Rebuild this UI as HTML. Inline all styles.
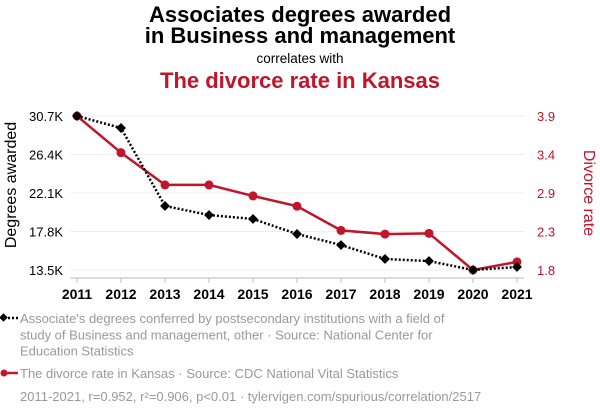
<!DOCTYPE html>
<html><head><meta charset="utf-8"><style>
body{margin:0;background:#fff;font-family:"Liberation Sans",sans-serif;}
svg{display:block}
</style></head><body>
<svg id="c" width="600" height="414">
<text x="300" y="22" text-anchor="middle" font-size="22" font-weight="bold" fill="#000">Associates degrees awarded</text>
<text x="300" y="43" text-anchor="middle" font-size="22" font-weight="bold" fill="#000">in Business and management</text>
<text x="300" y="63" text-anchor="middle" font-size="13.5" fill="#000">correlates with</text>
<text x="300" y="88" text-anchor="middle" font-size="22" font-weight="bold" fill="#c0152a">The divorce rate in Kansas</text>
<text transform="translate(16,185) rotate(-90)" text-anchor="middle" font-size="16" fill="#000">Degrees awarded</text>
<text transform="translate(584,193) rotate(90)" text-anchor="middle" font-size="16" fill="#c0152a">Divorce rate</text>
<g id="g"></g>
<g id="legend" font-size="13" fill="#999">
<line x1="4" y1="318" x2="18" y2="318" stroke="#000" stroke-width="2.5" stroke-dasharray="2,2"/>
<rect x="0.5" y="314.5" width="6" height="6" transform="rotate(45 3.5 317.5)" fill="#000"/>
<text x="20" y="323"><tspan x="20">Associate's degrees conferred by postsecondary institutions with a field of</tspan><tspan x="20" dy="16.3">study of Business and management, other · Source: National Center for</tspan><tspan x="20" dy="16.3">Education Statistics</tspan></text>
<line x1="4" y1="373" x2="18" y2="373" stroke="#c0152a" stroke-width="2.5"/>
<circle cx="4" cy="373" r="3.5" fill="#c0152a"/>
<text x="20" y="378">The divorce rate in Kansas · Source: CDC National Vital Statistics</text>
<text x="20" y="401">2011-2021, r=0.952, r²=0.906, p&lt;0.01 · tylervigen.com/spurious/correlation/2517</text>
</g>
</svg>
<script>
const years=[2011,2012,2013,2014,2015,2016,2017,2018,2019,2020,2021];
const degrees=[30.7,29.36,20.65,19.64,19.2,17.52,16.29,14.73,14.5,13.5,13.84];
const divorce=[3.9,3.4,2.96,2.96,2.81,2.67,2.34,2.29,2.30,1.8,1.91];
const leftTicks=["30.7K","26.4K","22.1K","17.8K","13.5K"];
const rightTicks=["3.9","3.4","2.9","2.3","1.8"];
const NS="http://www.w3.org/2000/svg";
const g=document.getElementById('g');
const x=i=>77+(517-77)*(years[i]-2011)/(2021-2011);
const yL=v=>270-(v-13.5)/(30.7-13.5)*154;
const yR=v=>270-(v-1.8)/(3.9-1.8)*154;
function mk(t,a){const e=document.createElementNS(NS,t);for(const k in a)e.setAttribute(k,a[k]);g.appendChild(e);return e;}
leftTicks.forEach((t,i)=>{
 const yy=116+i*(154/4);
 const l=mk('line',{x1:70,x2:524,y1:yy,y2:yy,stroke:'#eee','stroke-width':1});
 
 
 const a=mk('text',{x:63,y:yy+5,'text-anchor':'end','font-size':13,fill:'#000'});a.textContent=t;
 
 
 const b=mk('text',{x:537,y:yy+5,'font-size':13,fill:'#c0152a'});b.textContent=rightTicks[i];
 
 
});
const ax=mk('line',{x1:70,x2:524,y1:278,y2:278,stroke:'#bbb','stroke-width':1});


years.forEach((yr,i)=>{
 const tk=mk('line',{x1:x(i),x2:x(i),y1:278,y2:283,stroke:'#bbb'});
 
 
 const t=mk('text',{x:x(i),y:299,'text-anchor':'middle','font-size':14,'font-weight':'bold',fill:'#000'});t.textContent=yr;
 
 
});
const rp=mk('polyline',{points:divorce.map((v,i)=>x(i)+','+yR(v)).join(' '),fill:'none',stroke:'#c0152a','stroke-width':2.5});


const bp=mk('polyline',{points:degrees.map((v,i)=>x(i)+','+yL(v)).join(' '),fill:'none',stroke:'#000','stroke-width':2.5,'stroke-dasharray':'2,2'});


divorce.forEach((v,i)=>{
 const c=mk('circle',{cx:x(i),cy:yR(v),r:4.5,fill:'#c0152a'});
 
 
});
degrees.forEach((v,i)=>{
 const cx=x(i),cy=yL(v);
 const r=mk('rect',{x:cx-3.5,y:cy-3.5,width:7,height:7,fill:'#000',transform:`rotate(45 ${cx} ${cy})`});
 
 
});
</script>
</body></html>
